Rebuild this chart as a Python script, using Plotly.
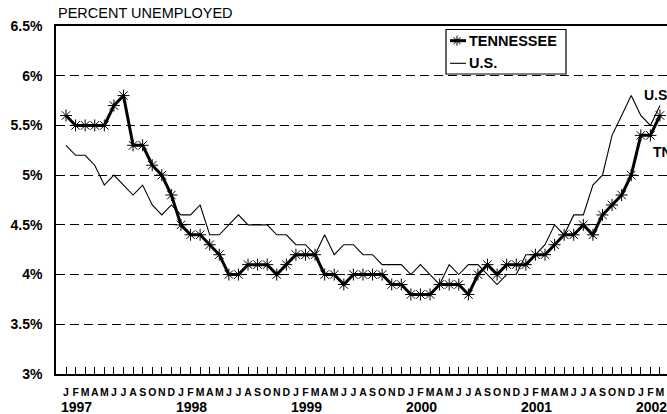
import plotly.graph_objects as go

# ---- data (monthly, Jan 1997 - Mar 2002) ----
month_letters = ["J", "F", "M", "A", "M", "J", "J", "A", "S", "O", "N", "D"]
years = ["1997", "1998", "1999", "2000", "2001", "2002"]

tennessee = [
    5.6, 5.5, 5.5, 5.5, 5.5, 5.7, 5.8, 5.3, 5.3, 5.1, 5.0, 4.8,   # 1997
    4.5, 4.4, 4.4, 4.3, 4.2, 4.0, 4.0, 4.1, 4.1, 4.1, 4.0, 4.1,   # 1998
    4.2, 4.2, 4.2, 4.0, 4.0, 3.9, 4.0, 4.0, 4.0, 4.0, 3.9, 3.9,   # 1999
    3.8, 3.8, 3.8, 3.9, 3.9, 3.9, 3.8, 4.0, 4.1, 4.0, 4.1, 4.1,   # 2000
    4.1, 4.2, 4.2, 4.3, 4.4, 4.4, 4.5, 4.4, 4.6, 4.7, 4.8, 5.0,   # 2001
    5.4, 5.4, 5.6,                                                # 2002
]
us = [
    5.3, 5.2, 5.2, 5.1, 4.9, 5.0, 4.9, 4.8, 4.9, 4.7, 4.6, 4.7,   # 1997
    4.6, 4.6, 4.7, 4.4, 4.4, 4.5, 4.6, 4.5, 4.5, 4.5, 4.4, 4.4,   # 1998
    4.3, 4.3, 4.2, 4.4, 4.2, 4.3, 4.3, 4.2, 4.2, 4.1, 4.1, 4.1,   # 1999
    4.0, 4.1, 4.0, 3.9, 4.1, 4.0, 4.1, 4.1, 4.0, 3.9, 4.0, 4.0,   # 2000
    4.2, 4.2, 4.3, 4.5, 4.4, 4.6, 4.6, 4.9, 5.0, 5.4, 5.6, 5.8,   # 2001
    5.6, 5.5, 5.7,                                                # 2002
]
y_ticks = [3, 3.5, 4, 4.5, 5, 5.5, 6, 6.5]
y_tick_labels = ["3%", "3.5%", "4%", "4.5%", "5%", "5.5%", "6%", "6.5%"]
series_names = ["TENNESSEE", "U.S."]

n = len(tennessee)
x = list(range(n))
tick_text = [month_letters[i % 12] for i in x]

FONT = "Liberation Sans, Arial, sans-serif"

fig = go.Figure()
fig.add_trace(go.Scatter(
    x=x, y=tennessee, name=series_names[0], mode="lines+markers",
    line=dict(color="black", width=3),
    marker=dict(symbol="asterisk-open", size=10, color="black",
                line=dict(color="black", width=1)),
    showlegend=False,
))
fig.add_trace(go.Scatter(
    x=x, y=us, name=series_names[1], mode="lines",
    line=dict(color="black", width=1.1),
    showlegend=False,
))

# layout geometry (page pixels)
W, H = 667, 414
ml, mr, mt, mb = 56, 0, 26, 414 - 374
pw = W - ml - mr
ph = H - mt - mb
px_per_month = 9.58
x0 = -10 / px_per_month
x1 = x0 + pw / px_per_month

def py(page_y):
    return 1 - (page_y - mt) / ph

def pxp(page_x):
    return (page_x - ml) / pw

annotations = [
    dict(text="PERCENT UNEMPLOYED", xref="paper", yref="paper", x=0, y=py(12.5),
         xanchor="left", yanchor="middle", showarrow=False,
         font=dict(family=FONT, size=14.5, color="black")),
    dict(text="<b>U.S.</b>", xref="x", yref="y", x=60.16, y=5.81,
         xanchor="left", yanchor="middle", showarrow=False,
         font=dict(family=FONT, size=14, color="black")),
    dict(text="<b>TN</b>", xref="x", yref="y", x=61.03, y=5.235,
         xanchor="left", yanchor="middle", showarrow=False,
         font=dict(family=FONT, size=14, color="black")),
]
for k, yr in enumerate(years):
    jan = 12 * k
    annotations.append(dict(
        text="<b>%s</b>" % yr, xref="x", yref="paper",
        x=min(jan + 1.1, x1 - 1.65), y=py(406.5),
        xanchor="center", yanchor="middle", showarrow=False,
        font=dict(family=FONT, size=14, color="black")))

# ---- legend box (drawn by hand to match the reference's compact key) ----
leg_l, leg_r, leg_t, leg_b = 446, 566, 29.5, 74
row_y = [40.7, 63.3]
sym_l, sym_r = 450, 466
shapes = [
    dict(type="rect", xref="paper", yref="paper",
         x0=pxp(leg_l), x1=pxp(leg_r), y0=py(leg_b), y1=py(leg_t),
         line=dict(color="black", width=1.2), fillcolor="white", layer="above"),
    dict(type="line", xref="paper", yref="paper",
         x0=pxp(sym_l), x1=pxp(sym_r), y0=py(row_y[0]), y1=py(row_y[0]),
         line=dict(color="black", width=3), layer="above"),
    dict(type="path", xref="paper", yref="paper", xsizemode="pixel", ysizemode="pixel",
         xanchor=pxp((sym_l + sym_r) / 2 - 1), yanchor=py(row_y[0]),
         path="M-5,0L5,0M-3.5,-3.5L3.5,3.5M-3.5,3.5L3.5,-3.5M0,-5L0,5",
         line=dict(color="black", width=1), layer="above"),
    dict(type="line", xref="paper", yref="paper",
         x0=pxp(sym_l), x1=pxp(sym_r), y0=py(row_y[1]), y1=py(row_y[1]),
         line=dict(color="black", width=1.1), layer="above"),
]
for name, ry in zip(series_names, row_y):
    annotations.append(dict(
        text="<b>%s</b>" % name, xref="paper", yref="paper",
        x=pxp(sym_r + 0.5), y=py(ry), xanchor="left", yanchor="middle",
        showarrow=False, font=dict(family=FONT, size=14.5, color="black")))

fig.update_layout(
    width=W, height=H,
    margin=dict(l=ml, r=mr, t=mt, b=mb, pad=0, autoexpand=False),
    paper_bgcolor="white", plot_bgcolor="white",
    font=dict(family=FONT, color="black"),
    showlegend=False,
    annotations=annotations,
    shapes=shapes,
    xaxis=dict(
        range=[x0, x1], tickmode="array", tickvals=x, ticktext=tick_text,
        ticks="inside", ticklen=7, tickwidth=1, tickcolor="black",
        showline=True, linecolor="black", linewidth=1.5, mirror=True,
        showgrid=False, zeroline=False, automargin=False,
        tickfont=dict(family=FONT, size=10.5, color="black", weight="bold"),
        ticklabelstandoff=8, tickangle=0,
    ),
    yaxis=dict(
        range=[3, 6.5], tickmode="array", tickvals=y_ticks, ticktext=y_tick_labels,
        ticks="", showline=True, linecolor="black", linewidth=1.5,
        showgrid=True, gridcolor="black", gridwidth=1, griddash="9px,5px",
        zeroline=False, automargin=False,
        tickfont=dict(family=FONT, size=14, color="black", weight="bold"),
        ticklabelstandoff=9,
    ),
)

fig.write_html(
    "out.html",
    config={"displayModeBar": False},
    post_script="document.body.style.margin='0';document.body.style.overflow='hidden';",
)
